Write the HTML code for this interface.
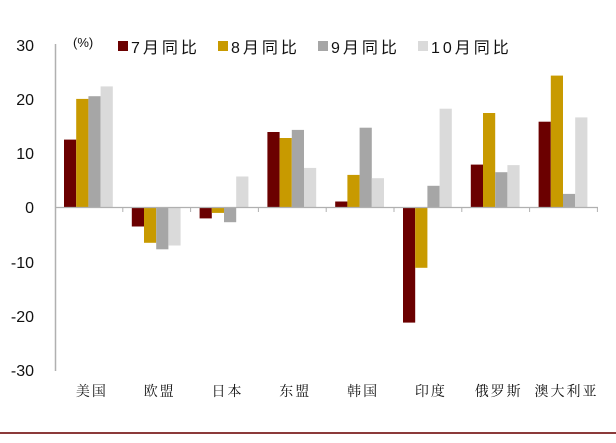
<!DOCTYPE html>
<html><head><meta charset="utf-8"><style>body{margin:0;background:#fff}</style></head><body>
<svg width="616" height="438" xmlns="http://www.w3.org/2000/svg" font-family="Liberation Sans, Noto Sans CJK SC, sans-serif">
<rect width="616" height="438" fill="#fff"/>
<g font-size="16" fill="#111" text-anchor="end">
<text x="34" y="51">30</text><text x="34" y="105">20</text><text x="34" y="159">10</text><text x="34" y="213">0</text>
<text x="34" y="268">-10</text><text x="34" y="322">-20</text><text x="34" y="376">-30</text>
</g>
<text x="73" y="47" font-size="13" fill="#111">(%)</text>
<g font-size="16" fill="#111" letter-spacing="3">
<rect x="118" y="41" width="10" height="10" fill="#6b0000"/><text x="131" y="53">7月同比</text>
<rect x="218" y="41" width="10" height="10" fill="#c89a00"/><text x="231" y="53">8月同比</text>
<rect x="318" y="41" width="10" height="10" fill="#a6a6a6"/><text x="331" y="53">9月同比</text>
<rect x="418" y="41" width="10" height="10" fill="#dadada"/><text x="431" y="53">10月同比</text>
</g>
<g>
<rect x="64" y="139.6" width="12.2" height="67.9" fill="#6b0000"/>
<rect x="76.2" y="98.9" width="12.2" height="108.6" fill="#c89a00"/>
<rect x="88.4" y="96.2" width="12.2" height="111.3" fill="#a6a6a6"/>
<rect x="100.6" y="86.4" width="12.2" height="121.1" fill="#dadada"/>

<rect x="131.8" y="207.5" width="12.2" height="19" fill="#6b0000"/>
<rect x="144" y="207.5" width="12.2" height="35.3" fill="#c89a00"/>
<rect x="156.2" y="207.5" width="12.2" height="41.8" fill="#a6a6a6"/>
<rect x="168.4" y="207.5" width="12.2" height="38" fill="#dadada"/>

<rect x="199.6" y="207.5" width="12.2" height="10.9" fill="#6b0000"/>
<rect x="211.8" y="207.5" width="12.2" height="5.4" fill="#c89a00"/>
<rect x="224" y="207.5" width="12.2" height="14.7" fill="#a6a6a6"/>
<rect x="236.2" y="176.5" width="12.2" height="31" fill="#dadada"/>

<rect x="267.4" y="132" width="12.2" height="75.5" fill="#6b0000"/>
<rect x="279.6" y="138" width="12.2" height="69.5" fill="#c89a00"/>
<rect x="291.8" y="129.9" width="12.2" height="77.6" fill="#a6a6a6"/>
<rect x="304" y="167.9" width="12.2" height="39.6" fill="#dadada"/>

<rect x="335.2" y="201.5" width="12.2" height="6" fill="#6b0000"/>
<rect x="347.4" y="174.9" width="12.2" height="32.6" fill="#c89a00"/>
<rect x="359.6" y="127.7" width="12.2" height="79.8" fill="#a6a6a6"/>
<rect x="371.8" y="178.2" width="12.2" height="29.3" fill="#dadada"/>

<rect x="403" y="207.5" width="12.2" height="115.1" fill="#6b0000"/>
<rect x="415.2" y="207.5" width="12.2" height="60.3" fill="#c89a00"/>
<rect x="427.4" y="185.8" width="12.2" height="21.7" fill="#a6a6a6"/>
<rect x="439.6" y="108.7" width="12.2" height="98.8" fill="#dadada"/>

<rect x="470.8" y="164.6" width="12.2" height="42.9" fill="#6b0000"/>
<rect x="483" y="113" width="12.2" height="94.5" fill="#c89a00"/>
<rect x="495.2" y="172.2" width="12.2" height="35.3" fill="#a6a6a6"/>
<rect x="507.4" y="165.1" width="12.2" height="42.4" fill="#dadada"/>

<rect x="538.6" y="121.7" width="12.2" height="85.8" fill="#6b0000"/>
<rect x="550.8" y="75.6" width="12.2" height="131.9" fill="#c89a00"/>
<rect x="563" y="193.9" width="12.2" height="13.6" fill="#a6a6a6"/>
<rect x="575.2" y="117.4" width="12.2" height="90.1" fill="#dadada"/>
</g>
<line x1="55.5" y1="44" x2="55.5" y2="371" stroke="#b0b0b0" stroke-width="1.5"/>
<line x1="55" y1="207.5" x2="598" y2="207.5" stroke="#b0b0b0" stroke-width="1.2"/>
<g stroke="#b0b0b0">
<line x1="122.8" y1="207" x2="122.8" y2="212"/><line x1="190.6" y1="207" x2="190.6" y2="212"/>
<line x1="258.4" y1="207" x2="258.4" y2="212"/><line x1="326.2" y1="207" x2="326.2" y2="212"/>
<line x1="394" y1="207" x2="394" y2="212"/><line x1="461.8" y1="207" x2="461.8" y2="212"/>
<line x1="529.6" y1="207" x2="529.6" y2="212"/><line x1="597.4" y1="207" x2="597.4" y2="212"/>
</g>
<g font-size="14" fill="#111" text-anchor="middle" font-family="Noto Serif CJK SC, serif" letter-spacing="2">
<text x="91.9" y="396">美国</text><text x="159.7" y="396">欧盟</text><text x="227.5" y="396">日本</text>
<text x="295.3" y="396">东盟</text><text x="363.1" y="396">韩国</text><text x="430.9" y="396">印度</text>
<text x="498.7" y="396">俄罗斯</text><text x="566.5" y="396">澳大利亚</text>
</g>
<rect x="0" y="432" width="616" height="2" fill="#8b3a3a"/>
</svg>
</body></html>
